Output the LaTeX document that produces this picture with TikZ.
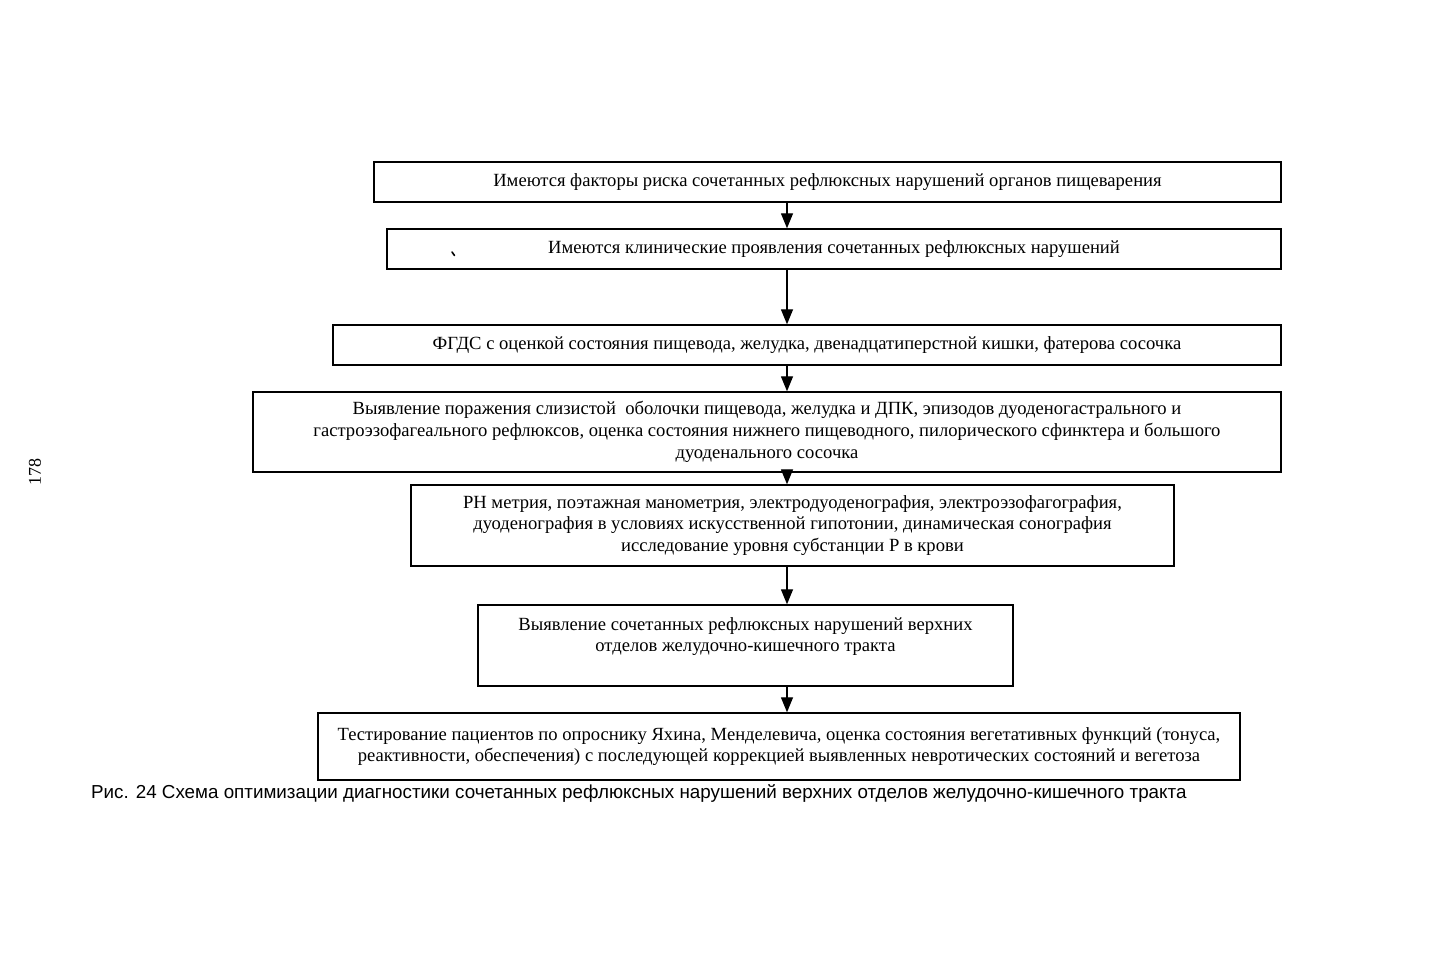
\documentclass[tikz,border=0pt]{standalone}
\usepackage{fontspec}
\setmainfont{Liberation Serif}
\newfontfamily\capfont{Liberation Sans}
\usetikzlibrary{arrows.meta}
\begin{document}
\begin{tikzpicture}[x=1pt,y=-1pt,
  box/.style={draw, line width=1.4pt, inner sep=0pt, align=center,
    font=\fontsize{18.6}{21.8}\selectfont},
  conn/.style={line width=1.3pt, -{Triangle[length=15pt,width=12pt]}}]
\useasboundingbox (0,0) rectangle (1435,960);
\coordinate (ax) at (787,0);
\node[box, minimum width=907pt, minimum height=40pt] (b1) at (827.5,182)
  {Имеются факторы риска сочетанных рефлюксных нарушений органов пищеварения};
\node[box, minimum width=894pt, minimum height=40pt] (b2) at (834,249)
  {Имеются клинические проявления сочетанных рефлюксных нарушений};
\node[box, minimum width=948pt, minimum height=40pt] (b3) at (807,345)
  {ФГДС с оценкой состояния пищевода, желудка, двенадцатиперстной кишки, фатерова сосочка};
\node[box, minimum width=1028pt, minimum height=80pt] (b4) at (767,432)
  {Выявление поражения слизистой \ оболочки пищевода, желудка и ДПК, эпизодов дуоденогастрального и\\
   гастроэзофагеального рефлюксов, оценка состояния нижнего пищеводного, пилорического сфинктера и большого\\
   дуоденального сосочка};
\node[box, minimum width=763pt, minimum height=81pt] (b5) at (792.5,525.5)
  {РН метрия, поэтажная манометрия, электродуоденография, электроэзофагография,\\
   дуоденография в условиях искусственной гипотонии, динамическая сонография\\
   исследование уровня субстанции Р в крови};
\node[box, minimum width=535pt, minimum height=81pt] (b6) at (745.5,645.5)
  {Выявление сочетанных рефлюксных нарушений верхних\\
   отделов желудочно-кишечного тракта\\ \mbox{}};
\node[box, minimum width=922pt, minimum height=67pt] (b7) at (779,746.5)
  {Тестирование пациентов по опроснику Яхина, Менделевича, оценка состояния вегетативных функций (тонуса,\\
   реактивности, обеспечения) с последующей коррекцией выявленных невротических состояний и вегетоза};
\node[anchor=west, inner sep=0pt, font=\capfont\fontsize{18.8}{21}\selectfont] (cap) at (91,793)
  {Рис. 24 Схема оптимизации диагностики сочетанных рефлюксных нарушений верхних отделов желудочно-кишечного тракта};
\node[rotate=90, inner sep=0pt, font=\fontsize{18}{20}\selectfont] (pg) at (35,472) {178};
\draw[line width=1.6pt, line cap=round] (452,252) -- (454.5,255.5);
\draw[conn] (b1.south -| ax) -- (b2.north -| ax);
\draw[conn] (b2.south -| ax) -- (b3.north -| ax);
\draw[conn] (b3.south -| ax) -- (b4.north -| ax);
\draw[conn] (b4.south -| ax) -- (b5.north -| ax);
\draw[conn] (b5.south -| ax) -- (b6.north -| ax);
\draw[conn] (b6.south -| ax) -- (b7.north -| ax);
\end{tikzpicture}
\end{document}
